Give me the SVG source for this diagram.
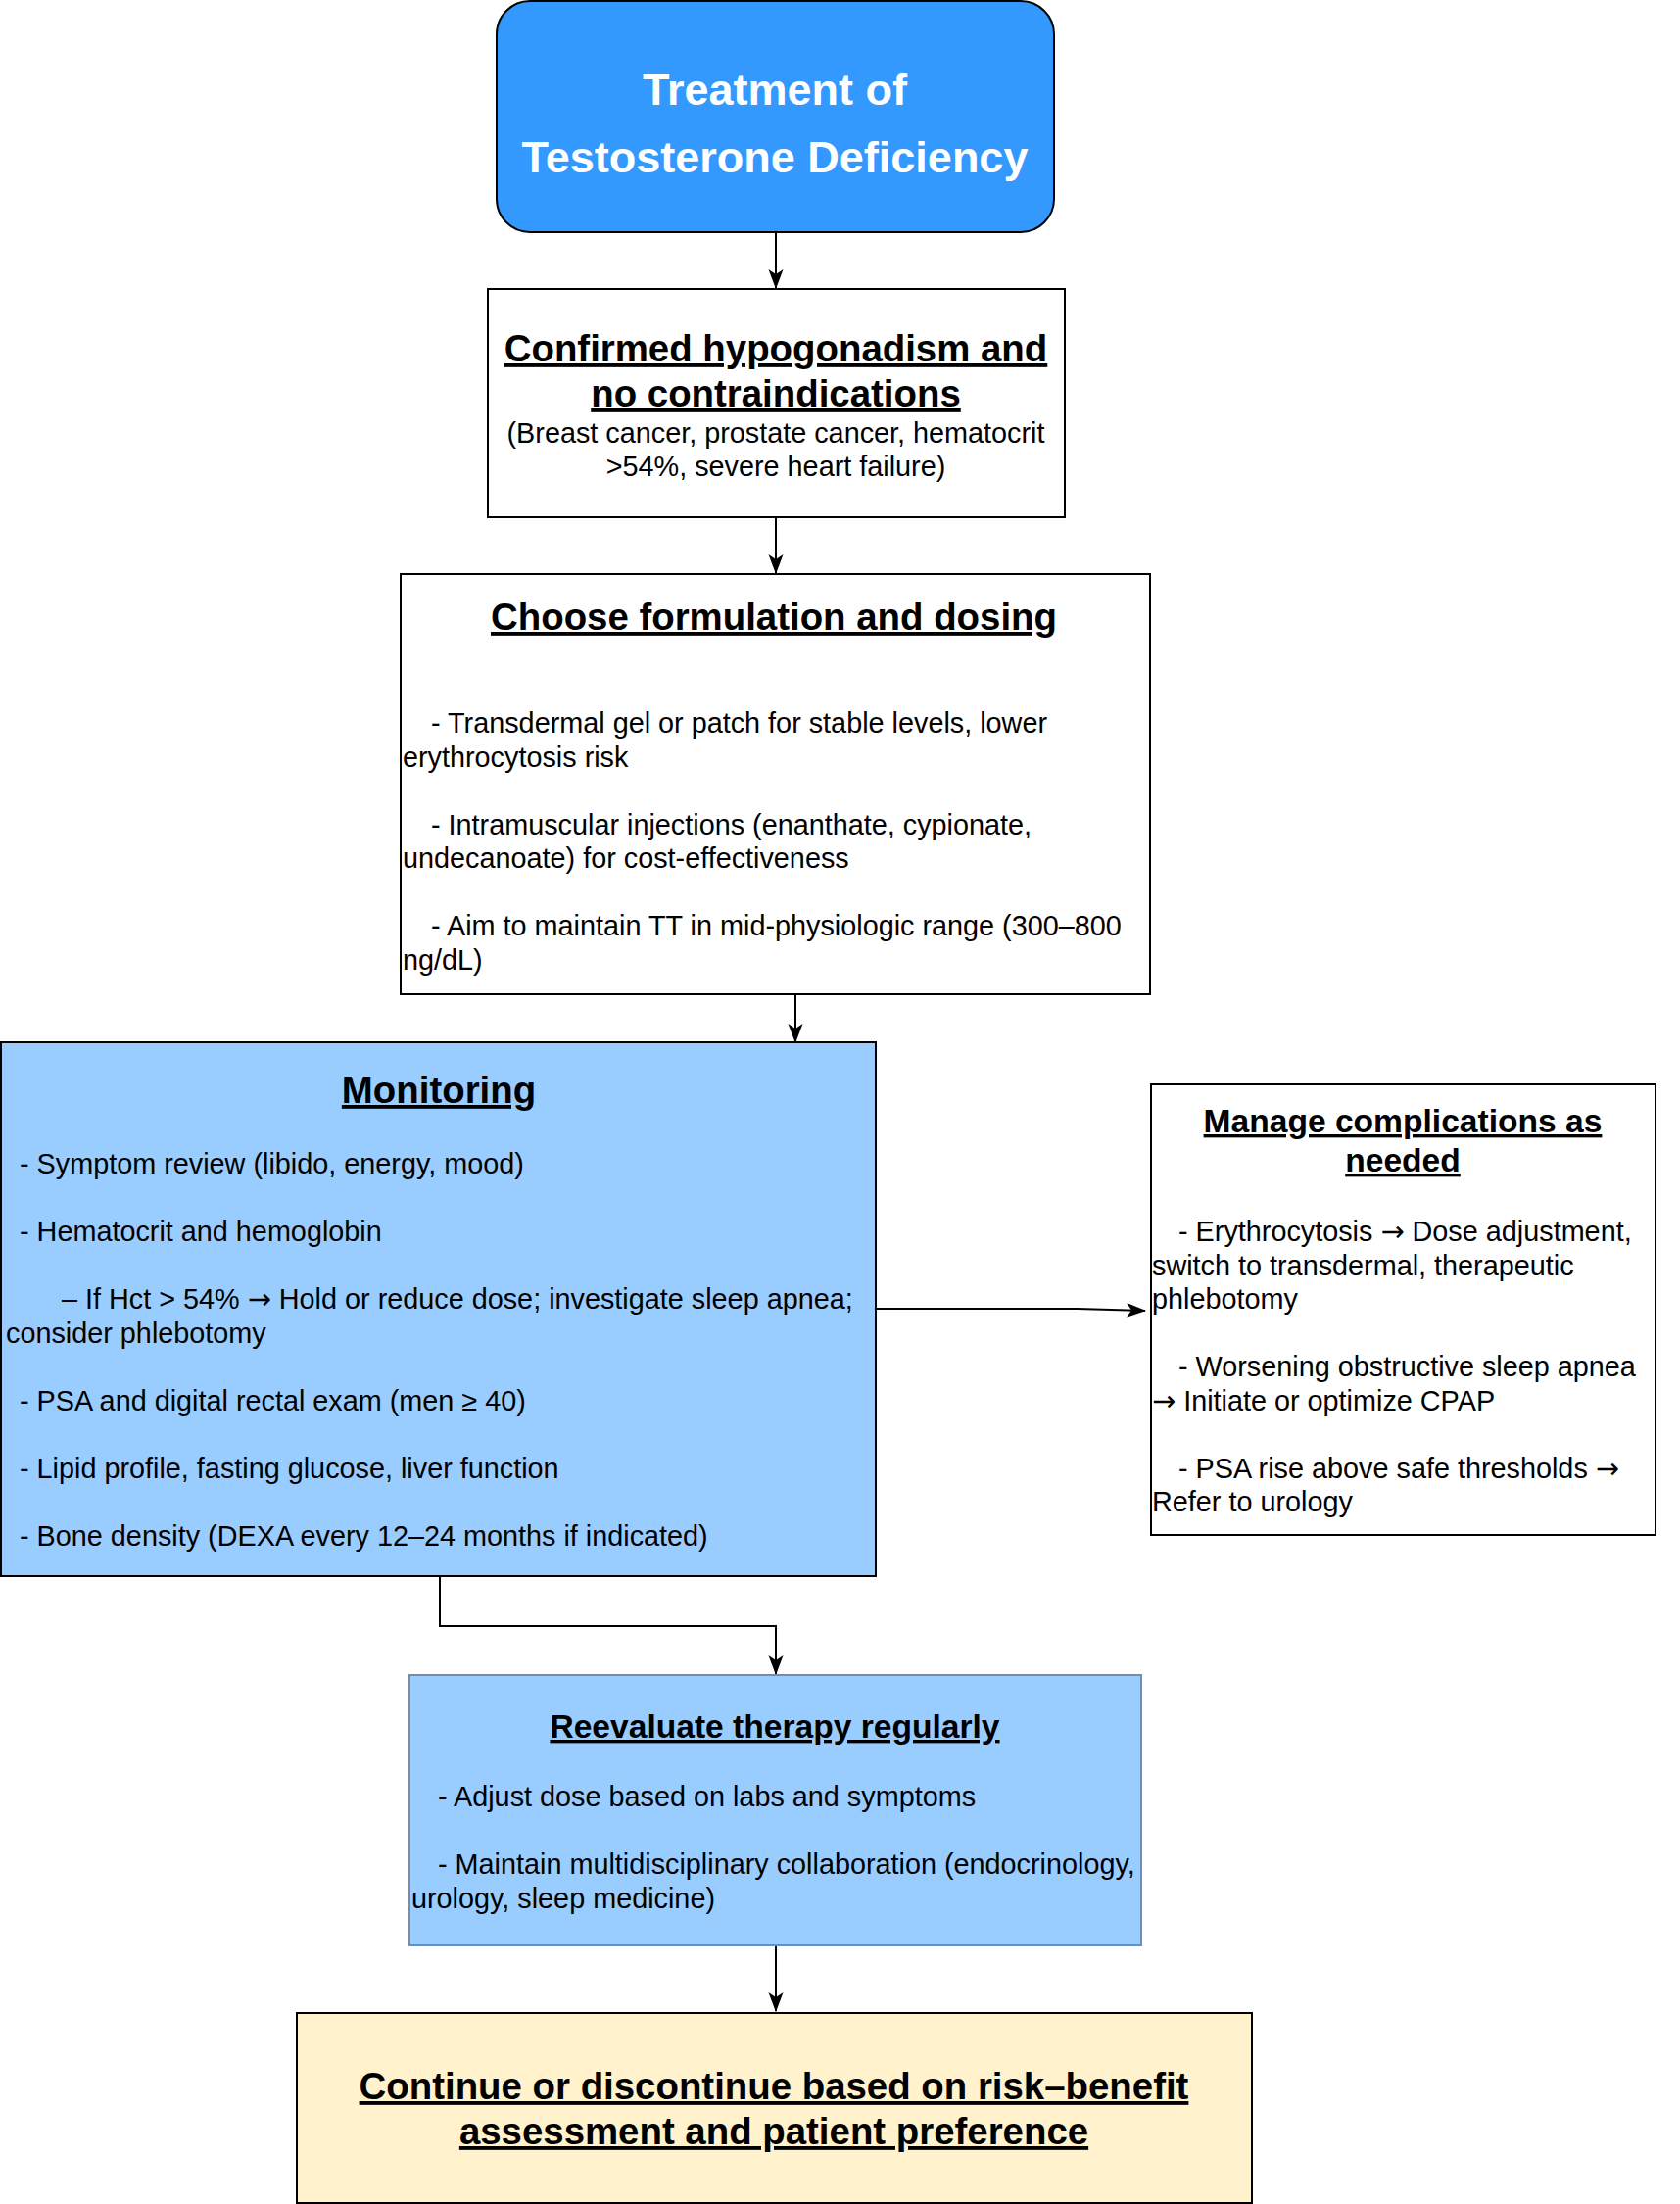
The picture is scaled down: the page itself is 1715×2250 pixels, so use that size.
<svg xmlns="http://www.w3.org/2000/svg" width="1715" height="2250" viewBox="0 0 1715 2250">
<style>
.box{stroke:#000;stroke-width:2}
text{font-family:"Liberation Sans",Arial,Helvetica,sans-serif;fill:#000}
.h1{font-size:38.4px;font-weight:bold;text-decoration:underline;text-anchor:middle}
.h2{font-size:33.6px;font-weight:bold;text-decoration:underline;text-anchor:middle}
.b{font-size:28.8px}
.bc{font-size:28.8px;text-anchor:middle}
.ar{font-family:"DejaVu Sans",sans-serif}
.conn{fill:none;stroke:#000;stroke-width:2}
</style>
<defs>
<marker id="arr" markerUnits="userSpaceOnUse" markerWidth="20" markerHeight="20" viewBox="0 0 20 20" refX="19" refY="10" orient="auto">
<path d="M0,2.5 L20,10 L0,17.5 L5,10 z" fill="#000"/>
</marker>
</defs>
<rect width="1715" height="2250" fill="#fff"/>
<g id="connectors">
<path class="conn" d="M792,237 V294" marker-end="url(#arr)"/>
<path class="conn" d="M792,528 V585" marker-end="url(#arr)"/>
<path class="conn" d="M812,1015 V1064" marker-end="url(#arr)"/>
<path class="conn" d="M894,1336 H1100 L1169,1338" marker-end="url(#arr)"/>
<path class="conn" d="M449,1609 V1660 H792 V1709" marker-end="url(#arr)"/>
<path class="conn" d="M792,1986 V2053" marker-end="url(#arr)"/>
</g>
<g id="node-start">
<rect class="box" x="507" y="1" width="569" height="236" rx="34" ry="34" fill="#3399FF"/>
<text x="791" y="107" text-anchor="middle" font-size="45" font-weight="bold" style="fill:#fff">Treatment of</text>
<text x="791" y="176" text-anchor="middle" font-size="45" font-weight="bold" style="fill:#fff">Testosterone Deficiency</text>
</g>
<g id="node-confirmed">
<rect class="box" x="498" y="295" width="589" height="233" fill="#fff"/>
<text class="h1" x="792" y="369">Confirmed hypogonadism and</text>
<text class="h1" x="792" y="415">no contraindications</text>
<text class="bc" x="792" y="452">(Breast cancer, prostate cancer, hematocrit</text>
<text class="bc" x="792" y="486">&gt;54%, severe heart failure)</text>
</g>
<g id="node-formulation">
<rect class="box" x="409" y="586" width="765" height="429" fill="#fff"/>
<text class="h1" x="790" y="643">Choose formulation and dosing</text>
<text class="b" x="440" y="748">- Transdermal gel or patch for stable levels, lower</text>
<text class="b" x="411" y="782.5">erythrocytosis risk</text>
<text class="b" x="440" y="851.5">- Intramuscular injections (enanthate, cypionate,</text>
<text class="b" x="411" y="886">undecanoate) for cost-effectiveness</text>
<text class="b" x="440" y="955">- Aim to maintain TT in mid-physiologic range (300–800</text>
<text class="b" x="411" y="989.5">ng/dL)</text>
</g>
<g id="node-monitoring">
<rect class="box" x="1" y="1064" width="893" height="545" fill="#99CCFF"/>
<text class="h1" x="448" y="1126">Monitoring</text>
<text class="b" x="20" y="1198">- Symptom review (libido, energy, mood)</text>
<text class="b" x="20" y="1267">- Hematocrit and hemoglobin</text>
<text class="b" x="63" y="1336">– If Hct &gt; 54% <tspan class="ar">→</tspan> Hold or reduce dose; investigate sleep apnea;</text>
<text class="b" x="6" y="1370.5">consider phlebotomy</text>
<text class="b" x="20" y="1439.5">- PSA and digital rectal exam (men ≥ 40)</text>
<text class="b" x="20" y="1508.5">- Lipid profile, fasting glucose, liver function</text>
<text class="b" x="20" y="1577.5">- Bone density (DEXA every 12–24 months if indicated)</text>
</g>
<g id="node-complications">
<rect class="box" x="1175" y="1107" width="515" height="460" fill="#fff"/>
<text class="h2" x="1432" y="1156">Manage complications as</text>
<text class="h2" x="1432" y="1196">needed</text>
<text class="b" x="1203" y="1267">- Erythrocytosis <tspan class="ar">→</tspan> Dose adjustment,</text>
<text class="b" x="1176" y="1301.5">switch to transdermal, therapeutic</text>
<text class="b" x="1176" y="1336">phlebotomy</text>
<text class="b" x="1203" y="1405">- Worsening obstructive sleep apnea</text>
<text class="b" x="1176" y="1439.5"><tspan class="ar">→</tspan> Initiate or optimize CPAP</text>
<text class="b" x="1203" y="1508.5">- PSA rise above safe thresholds <tspan class="ar">→</tspan></text>
<text class="b" x="1176" y="1543">Refer to urology</text>
</g>
<g id="node-reevaluate">
<rect x="418" y="1710" width="747" height="276" fill="#99CCFF" stroke="#6C8EBF" stroke-width="2"/>
<text class="h2" x="791" y="1774">Reevaluate therapy regularly</text>
<text class="b" x="447" y="1844">- Adjust dose based on labs and symptoms</text>
<text class="b" x="447" y="1913">- Maintain multidisciplinary collaboration (endocrinology,</text>
<text class="b" x="420" y="1947.5">urology, sleep medicine)</text>
</g>
<g id="node-decision">
<rect class="box" x="303" y="2055" width="975" height="194" fill="#FFF2CC"/>
<text class="h1" x="790" y="2143">Continue or discontinue based on risk–benefit</text>
<text class="h1" x="790" y="2189">assessment and patient preference</text>
</g>
</svg>
